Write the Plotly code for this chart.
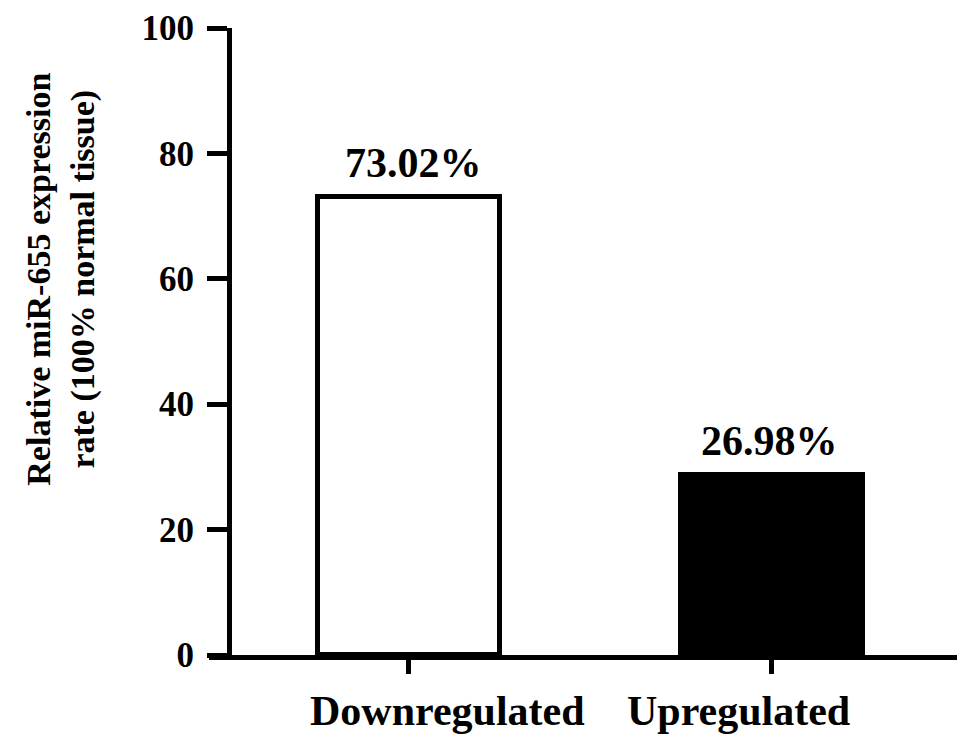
import plotly.graph_objects as go

categories = ["Downregulated", "Upregulated"]
values = [73.02, 28.7]
bar_labels = ["73.02%", "26.98%"]
fill_colors = ["white", "black"]
y_ticks = [0, 20, 40, 60, 80, 100]
y_title = "Relative miR-655 expression<br>rate (100% normal tissue)"

FONT = "Liberation Serif, Times New Roman, serif"

fig = go.Figure()
fig.add_trace(go.Bar(
    x=categories, y=values, width=0.5,
    marker=dict(color=fill_colors, line=dict(color="black", width=5)),
    showlegend=False, hoverinfo="skip",
))

annotations = []
label_xshift = [5, -2]
for c, v, t, s in zip(categories, values, bar_labels, label_xshift):
    annotations.append(dict(x=c, y=v, xref="x", yref="y", text=f"<b>{t}</b>",
                            showarrow=False, yanchor="bottom", yshift=9, xshift=s,
                            font=dict(family=FONT, size=42, color="black")))
cat_shift = [39, -33]
for c, s in zip(categories, cat_shift):
    annotations.append(dict(x=c, y=0, xref="x", yref="paper", text=f"<b>{c}</b>",
                            showarrow=False, yanchor="middle", yshift=-56, xshift=s,
                            font=dict(family=FONT, size=42, color="black")))
annotations.append(dict(x=-0.198, y=0.60, xref="paper", yref="paper", text=f"<b>{y_title}</b>",
                        showarrow=False, textangle=-90, xanchor="center", yanchor="middle",
                        font=dict(family=FONT, size=34, color="black")))

fig.update_layout(
    width=961, height=742,
    margin=dict(l=201, r=12, t=20, b=95),
    paper_bgcolor="white", plot_bgcolor="white",
    xaxis=dict(range=[-0.551, 1.51], showline=True, linecolor="black", linewidth=5,
               ticks="outside", ticklen=14, tickwidth=5, tickcolor="black",
               showticklabels=False, showgrid=False, zeroline=False, automargin=False),
    yaxis=dict(range=[0, 100], tickvals=y_ticks, showline=True, linecolor="black", linewidth=5,
               anchor="free", position=(229 - 209) / (957 - 209),
               ticks="outside", ticklen=20, tickwidth=5, tickcolor="black",
               tickfont=dict(family=FONT, size=35, color="black", weight="bold"),
               ticklabelstandoff=6, automargin=False,
               showgrid=False, zeroline=False),
    annotations=annotations,
    bargap=0,
)

fig.write_html("out.html")
